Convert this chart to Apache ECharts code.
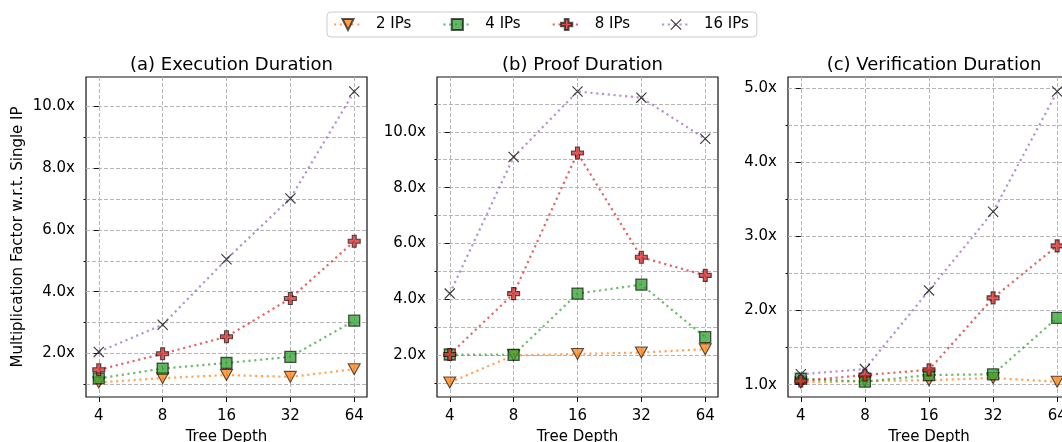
<!DOCTYPE html>
<html>
<head>
<meta charset="utf-8">
<style>
  html, body { margin: 0; padding: 0; background: #fff; }
  #chart { width: 1062px; height: 442px; }
</style>
<script src="https://cdn.jsdelivr.net/npm/echarts@6/dist/echarts.min.js"></script>
</head>
<body>
<div id="chart"></div>
<script>
var depths = [4, 8, 16, 32, 64];
var seriesNames = ["2 IPs", "4 IPs", "8 IPs", "16 IPs"];
var panelTitles = ["(a) Execution Duration", "(b) Proof Duration", "(c) Verification Duration"];

// (a) execution duration
var exec2 = [1.06, 1.20, 1.30, 1.24, 1.49];
var exec4 = [1.19, 1.51, 1.69, 1.89, 3.06];
var exec8 = [1.47, 1.99, 2.54, 3.78, 5.63];
var exec16 = [2.05, 2.93, 5.05, 7.02, 10.48];
// (b) proof duration
var proof2 = [1.03, 2.00, 2.05, 2.10, 2.22];
var proof4 = [2.03, 2.02, 4.21, 4.53, 2.65];
var proof8 = [2.03, 4.21, 9.24, 5.51, 4.86];
var proof16 = [4.21, 9.10, 11.44, 11.22, 9.75];
// (c) verification duration
var verif2 = [1.03, 1.05, 1.06, 1.09, 1.04];
var verif4 = [1.08, 1.04, 1.13, 1.14, 1.90];
var verif8 = [1.05, 1.13, 1.20, 2.17, 2.87];
var verif16 = [1.14, 1.21, 2.27, 3.33, 4.95];

// y tick values (labelled / unlabelled)
var yMajorTicks = [[2, 4, 6, 8, 10], [2, 4, 6, 8, 10], [1, 2, 3, 4, 5]];
var yMinorTicks = [[1, 3, 5, 7, 9], [1, 3, 5, 7, 9, 11], [1.5, 2.5, 3.5, 4.5]];

var panels = [
  [exec2, exec4, exec8, exec16],
  [proof2, proof4, proof8, proof16],
  [verif2, verif4, verif8, verif16]
];

var FONT = "DejaVu Sans";
var FS = 15;
var fills = ["rgba(255,127,14,0.75)", "rgba(44,160,44,0.75)", "rgba(214,39,40,0.75)", "rgba(40,40,40,0.9)"];
var lineColors = ["rgba(255,127,14,0.7)", "rgba(44,160,44,0.7)", "rgba(214,39,40,0.7)", "rgba(148,103,189,0.7)"];
var plusPath = "path://M2,0H4V2H6V4H4V6H2V4H0V2H2Z";
var crossPath = "path://M0,0.75L0.75,0L10,9.25L9.25,10ZM9.25,0L10,0.75L0.75,10L0,9.25Z";
var markers = [
  { symbol: "triangle", size: [12, 11], rotate: 180, border: 1.1 },
  { symbol: "rect", size: 11, rotate: 0, border: 1.3 },
  { symbol: plusPath, size: 12, rotate: 0, border: 1.1 },
  { symbol: crossPath, size: 11, rotate: 0, border: 0 }
];

// plot boxes: left, top, width, height
var boxes = [[86, 77, 281, 320], [437, 77, 281, 320], [788, 77, 282, 320]];

function yRange(list) {
  var lo = Infinity, hi = -Infinity;
  list.forEach(function (arr) {
    arr.forEach(function (v) { lo = Math.min(lo, v); hi = Math.max(hi, v); });
  });
  var pad = 0.05 * (hi - lo);
  return [lo - pad, hi + pad];
}

var xPad = 0.05 * (depths.length - 1);
var xIdx = depths.map(function (d, i) { return i; });
var gridLine = { show: true, lineStyle: { color: "#b5b5b5", width: 1, type: [4, 2] } };
var labelText = { fontFamily: FONT, fontSize: FS, color: "#000" };

var grids = [], xAxes = [], yAxes = [], titles = [], series = [];

panels.forEach(function (lists, p) {
  var b = boxes[p];
  grids.push({ left: b[0], top: b[1], width: b[2], height: b[3], show: true,
    containLabel: false, outerBoundsMode: "none",
    borderColor: "#111", borderWidth: 1.2, backgroundColor: "transparent" });

  titles.push({ text: panelTitles[p], left: b[0] + b[2] / 2, top: 51, textAlign: "center",
    textStyle: { fontFamily: FONT, fontSize: 18, fontWeight: "normal", color: "#000" } });

  xAxes.push({
    type: "value", gridIndex: p, min: -xPad, max: depths.length - 1 + xPad,
    name: "Tree Depth", nameLocation: "middle", nameGap: 33,
    nameTextStyle: labelText,
    axisLine: { show: false },
    axisTick: { show: true, length: 5, customValues: xIdx, lineStyle: { color: "#111" } },
    axisLabel: Object.assign({ customValues: xIdx, margin: 12,
      formatter: function (v) { return depths[Math.round(v)]; } }, labelText),
    splitLine: gridLine
  });

  var r = yRange(lists);
  yAxes.push({
    type: "value", gridIndex: p, min: r[0], max: r[1], position: "left",
    name: p === 0 ? "Multiplication Factor w.r.t. Single IP" : "",
    nameLocation: "middle", nameGap: 60,
    nameTextStyle: labelText,
    axisLine: { show: false },
    axisTick: { show: true, length: 5, customValues: yMajorTicks[p], lineStyle: { color: "#111" } },
    axisLabel: Object.assign({ customValues: yMajorTicks[p], margin: 11,
      formatter: function (v) { return v.toFixed(1) + "x"; } }, labelText),
    splitLine: gridLine
  });
  yAxes.push({
    type: "value", gridIndex: p, min: r[0], max: r[1], position: "left", offset: 0,
    axisLine: { show: false },
    axisTick: { show: true, length: 2.5, customValues: yMinorTicks[p], lineStyle: { color: "#111" } },
    axisLabel: { show: false },
    splitLine: gridLine
  });

  lists.forEach(function (vals, k) {
    var m = markers[k];
    series.push({
      name: seriesNames[k], type: "line",
      xAxisIndex: p, yAxisIndex: p * 2,
      data: vals.map(function (v, i) { return [i, v]; }),
      symbol: m.symbol, symbolSize: m.size, symbolRotate: m.rotate,
      showAllSymbol: true, clip: false,
      lineStyle: { color: lineColors[k], width: 2.2, type: [2.2, 3.6] },
      itemStyle: { color: fills[k], borderColor: "rgba(0,0,0,0.65)", borderWidth: m.border },
      emphasis: { disabled: true },
      z: 3 + k
    });
  });
});

var chart = echarts.init(document.getElementById("chart"));
chart.setOption({
  animation: false,
  backgroundColor: "#fff",
  textStyle: { fontFamily: FONT, fontSize: FS },
  title: titles,
  legend: {
    left: 327, top: 12, data: seriesNames,
    itemWidth: 28, itemHeight: 14, itemGap: 31,
    padding: [5, 8, 5, 6],
    borderColor: "#cccccc", borderWidth: 1, borderRadius: 4,
    textStyle: { fontFamily: FONT, fontSize: 15, color: "#000", padding: [0, 0, 0, 9] }
  },
  grid: grids,
  xAxis: xAxes,
  yAxis: yAxes,
  series: series
});
</script>
</body>
</html>
